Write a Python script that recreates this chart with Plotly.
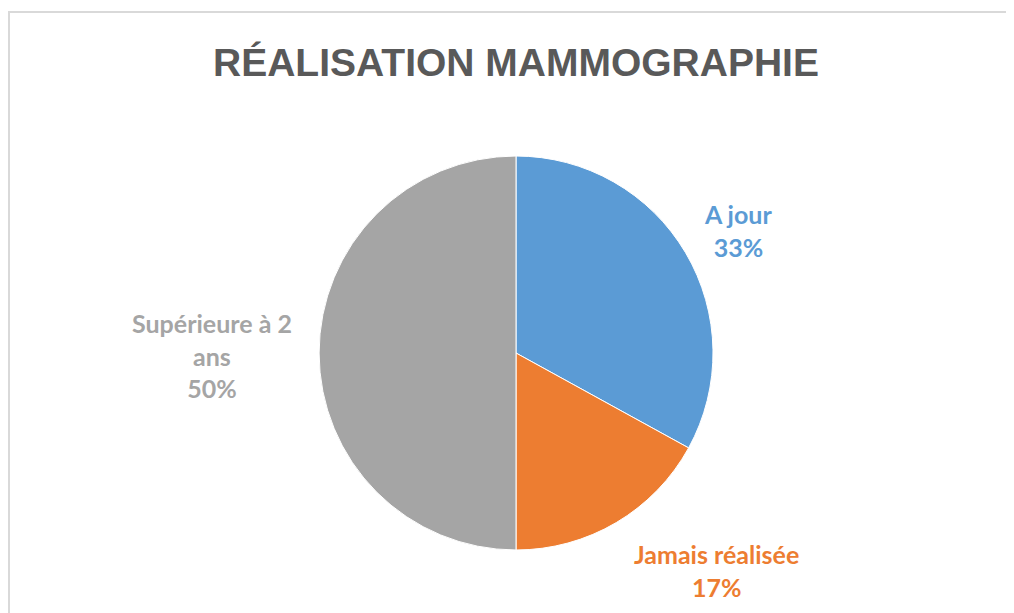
import plotly.graph_objects as go

categories = ["A jour", "Jamais réalisée", "Supérieure à 2 ans"]
values = [33, 17, 50]
colors = ["#5B9BD5", "#ED7D31", "#A5A5A5"]
title_text = "RÉALISATION MAMMOGRAPHIE"

# page has an 8px body margin; figure is placed at (8, 8)
OFF = 8
W, H = 1014 - OFF, 613 - OFF


def px(x):
    return (x - OFF) / W


def py(y):
    return 1 - (y - OFF) / H


CX, CY, R = 516, 353, 197

fig = go.Figure()
fig.add_trace(go.Pie(
    labels=categories,
    values=values,
    sort=False,
    direction="clockwise",
    rotation=0,
    marker=dict(colors=colors, line=dict(color="white", width=1)),
    textinfo="none",
    hoverinfo="label+percent",
    showlegend=False,
    domain=dict(x=[px(CX - R), px(CX + R)], y=[py(CY + R), py(CY - R)]),
))

# label anchor positions (pixels in reference) for each category
label_pos = [(738, 230), (716, 570), (212, 356)]
label_text = ["A jour", "Jamais réalisée", "Supérieure à 2<br>ans"]
total = sum(values)
for txt, v, c, (x, y) in zip(label_text, values, colors, label_pos):
    fig.add_annotation(
        x=px(x), y=py(y), xref="paper", yref="paper",
        text=f"<b>{txt}<br>{round(100 * v / total)}%</b>",
        showarrow=False, xanchor="center", yanchor="middle",
        font=dict(family="Lato", size=25, color=c),
    )

# chart-area border (top and left edges visible in the reference)
border = dict(color="#D9D9D9", width=2)
fig.add_shape(type="line", xref="paper", yref="paper",
              x0=px(8), x1=1.0, y0=py(12), y1=py(12), line=border)
fig.add_shape(type="line", xref="paper", yref="paper",
              x0=px(9), x1=px(9), y0=0.0, y1=py(11), line=border)

fig.update_layout(
    width=W, height=H,
    margin=dict(l=0, r=0, t=0, b=0),
    paper_bgcolor="white", plot_bgcolor="white",
    title=dict(text=f"<b>{title_text}</b>", x=px(516), y=py(62),
               xanchor="center", yanchor="middle",
               font=dict(family="Liberation Sans", size=39, color="#595959")),
)

fig.write_html("out.html")
